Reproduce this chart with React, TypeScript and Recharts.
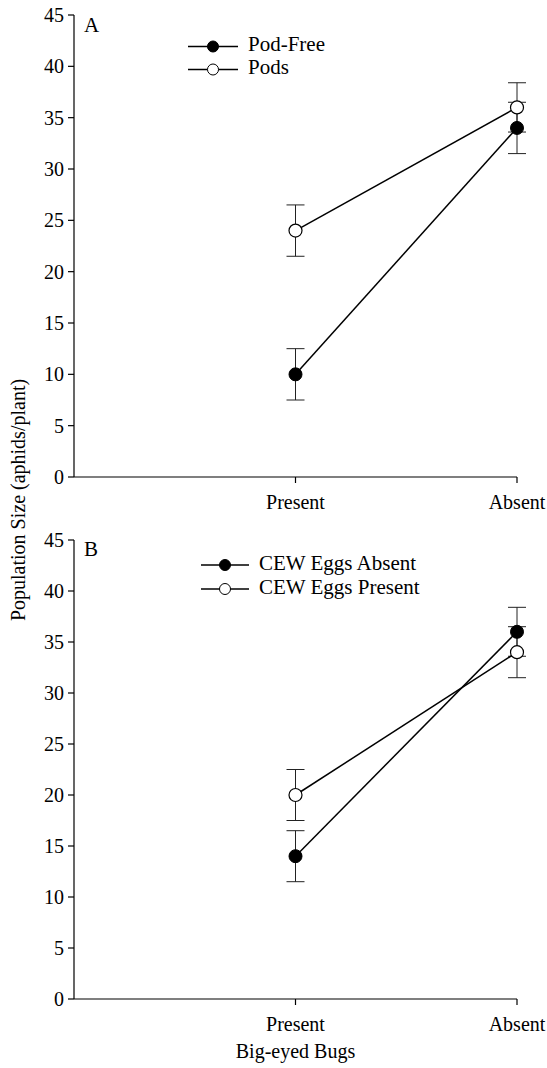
import React from 'react'
import { LineChart, Line, XAxis, YAxis, ErrorBar } from 'recharts'

const CATEGORIES = ['Present', 'Absent']
const Y_TICKS = [0, 5, 10, 15, 20, 25, 30, 35, 40, 45]

// panel A
const POD_FREE = [10, 34]
const POD_FREE_ERR = [2.5, 2.5]
const PODS = [24, 36]
const PODS_ERR = [2.5, 2.4]

// panel B
const EGGS_ABSENT = [14, 36]
const EGGS_ABSENT_ERR = [2.5, 2.4]
const EGGS_PRESENT = [20, 34]
const EGGS_PRESENT_ERR = [2.5, 2.5]

const FONT = "'Liberation Serif', 'Times New Roman', Times, 'DejaVu Serif', serif"

const buildRows = (a: number[], aErr: number[], b: number[], bErr: number[]) =>
  CATEGORIES.map((_, i) => ({ x: i + 1, a: a[i], aErr: aErr[i], b: b[i], bErr: bErr[i] }))

const panelA = buildRows(POD_FREE, POD_FREE_ERR, PODS, PODS_ERR)
const panelB = buildRows(EGGS_ABSENT, EGGS_ABSENT_ERR, EGGS_PRESENT, EGGS_PRESENT_ERR)

const tickStyle = { fill: '#000', fontSize: 20, fontFamily: FONT }

const LegendBox = ({ labels, rowH, lineW, top, left }: { labels: string[]; rowH: number; lineW: number; top: number; left: number }) => (
  <div style={{ position: 'absolute', top, left, fontFamily: FONT }}>
    {labels.map((lab, i) => (
      <div key={lab} style={{ display: 'flex', alignItems: 'center', height: rowH }}>
        <svg width={lineW} height={rowH}>
          <line x1={0} x2={lineW} y1={rowH / 2} y2={rowH / 2} stroke="#000" strokeWidth={1.5} />
          <circle cx={lineW / 2} cy={rowH / 2} r={5.5} fill={i === 0 ? '#000' : '#fff'} stroke="#000" strokeWidth={1} />
        </svg>
        <span style={{ marginLeft: 10, fontSize: 21, lineHeight: `${rowH}px`, position: 'relative', top: -2, color: '#000', whiteSpace: 'nowrap' }}>
          {lab}
        </span>
      </div>
    ))}
  </div>
)

interface PanelProps {
  data: { x: number; a: number; aErr: number; b: number; bErr: number }[]
  labels: string[]
  height: number
  xHeight: number
  xLabel?: string
}

function Panel({ data, labels, height, xHeight, xLabel }: PanelProps) {
  return (
    <LineChart width={547} height={height} data={data} margin={{ top: 15, right: 30, left: 0, bottom: 0 }}
      style={{ fontFamily: FONT }}>
      <XAxis
        type="number" dataKey="x" domain={[0, 2]} ticks={[1, 2]}
        tickFormatter={(v) => CATEGORIES[v - 1]}
        height={xHeight} tickSize={6} tickMargin={12}
        tick={tickStyle} stroke="#000" strokeWidth={1.2}
        label={xLabel ? { value: xLabel, position: 'insideBottom', offset: 10, fill: '#000', fontSize: 20, fontFamily: FONT } : undefined}
      />
      <YAxis
        type="number" domain={[0, 45]} ticks={Y_TICKS} interval={0}
        width={74} tickSize={6} tickMargin={4}
        tick={tickStyle} stroke="#000" strokeWidth={1.2}
      />
      <Line dataKey="a" name={labels[0]} stroke="#000" strokeWidth={1.5} isAnimationActive={false}
        dot={{ r: 6.5, fill: '#000', stroke: '#000', strokeWidth: 1 }} activeDot={false}>
        <ErrorBar dataKey="aErr" width={9} stroke="#222" strokeWidth={1} direction="y" />
      </Line>
      <Line dataKey="b" name={labels[1]} stroke="#000" strokeWidth={1.5} isAnimationActive={false}
        dot={{ r: 6.5, fill: '#fff', stroke: '#000', strokeWidth: 1.2 }} activeDot={false}>
        <ErrorBar dataKey="bErr" width={9} stroke="#222" strokeWidth={1} direction="y" />
      </Line>
    </LineChart>
  )
}

export default function App() {
  return (
    <div style={{ position: 'fixed', left: 0, top: 0, width: 547, height: 1068, background: '#fff', fontFamily: FONT }}>
      {/* panel A */}
      <div style={{ position: 'absolute', left: 0, top: 0 }}>
        <Panel data={panelA} labels={['Pod-Free', 'Pods']} height={530} xHeight={53} />
      </div>
      <LegendBox labels={['Pod-Free', 'Pods']} rowH={23} lineW={50} top={34.5} left={188} />
      {/* panel B */}
      <div style={{ position: 'absolute', left: 0, top: 525 }}>
        <Panel data={panelB} labels={['CEW Eggs Absent', 'CEW Eggs Present']} height={543} xHeight={69}
          xLabel="Big-eyed Bugs" />
      </div>
      <LegendBox labels={['CEW Eggs Absent', 'CEW Eggs Present']} rowH={24} lineW={48} top={553} left={201} />
      <div style={{ position: 'absolute', left: 84, top: 15, fontSize: 21, lineHeight: '20px', color: '#000' }}>A</div>
      <div style={{ position: 'absolute', left: 84, top: 539, fontSize: 21, lineHeight: '20px', color: '#000' }}>B</div>
      <div style={{
        position: 'absolute', left: 18, top: 500, fontSize: 20, whiteSpace: 'nowrap', color: '#000',
        transform: 'translate(-50%, -50%) rotate(-90deg)',
      }}>
        Population Size (aphids/plant)
      </div>
    </div>
  )
}
